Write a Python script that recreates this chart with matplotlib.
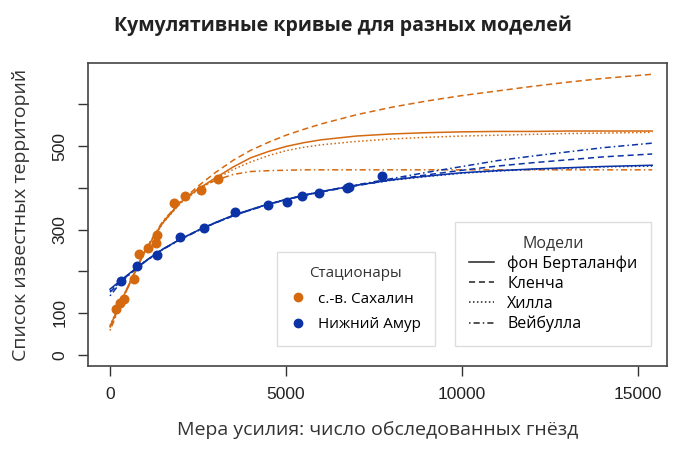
import matplotlib
matplotlib.use("Agg")
import matplotlib.pyplot as plt
from matplotlib.lines import Line2D

plt.rcParams['font.family'] = ['Open Sans', 'DejaVu Sans']

# observed points
sakh_x = [162, 284, 398, 682, 824, 1080, 1307, 1335, 1818, 2131, 2585, 3068]
sakh_y = [110, 125, 133, 181, 241, 255, 267, 287, 364, 381, 395, 422]

amur_x = [312, 767, 1335, 1989, 2670, 3551, 4489, 5028, 5455, 5938, 6733, 6790, 7727]
amur_y = [176, 212, 239, 282, 304, 342, 359, 366, 381, 388, 400, 402, 429]

# fitted curves
curve_x = [0, 300, 600, 1000, 1500, 2000, 2500, 3000, 3500, 4000, 4500, 5000, 5500,
           6000, 7000, 8000, 9000, 10000, 11000, 12000, 13000, 14000, 15400]

sakh_vb = [68, 125, 180, 250, 316, 365, 397, 424, 450, 472, 487, 499, 508,
           515, 524, 529, 532, 534, 535, 535, 536, 536, 536]
sakh_klench = [65, 122, 178, 250, 318, 366, 404, 437, 466, 490, 509, 526, 540,
               553, 575, 593, 608, 621, 632, 643, 653, 662, 672]
sakh_hill = [70, 126, 180, 250, 315, 363, 395, 421, 444, 462, 477, 489, 497,
             503, 511, 517, 521, 524, 526, 528, 530, 531, 533]
sakh_weib = [58, 120, 178, 252, 320, 367, 398, 418, 432, 439, 441, 442, 443,
             443, 443, 443, 443, 443, 443, 443, 443, 443, 443]

amur_vb = [157, 178, 198, 224, 253, 277, 298, 317, 334, 348, 361, 372, 382,
           391, 406, 419, 428, 436, 441, 445, 448, 451, 454]
amur_klench = [150, 175, 197, 224, 253, 277, 298, 316, 333, 347, 360, 371, 381,
               390, 405, 419, 431, 442, 452, 460, 467, 474, 481]
amur_hill = [152, 176, 197, 224, 253, 277, 298, 317, 334, 348, 361, 372, 382,
             391, 406, 418, 427, 435, 440, 444, 447, 450, 452]
amur_weib = [141, 173, 196, 223, 252, 276, 297, 316, 333, 347, 361, 372, 382,
             391, 407, 422, 437, 451, 465, 476, 486, 496, 507]

orange = '#d4690f'
blue = '#0b33a6'

styles = {
    'vb': dict(linestyle='-'),
    'klench': dict(linestyle=(0, (4, 2.5))),
    'hill': dict(linestyle=(0, (1, 1.6))),
    'weib': dict(linestyle=(0, (1, 2, 4, 2))),
}

fig = plt.figure(figsize=(6.73, 4.49), dpi=100)
ax = fig.add_axes([0.1308, 0.1849, 0.8603, 0.6748])

for col, curves in [(orange, [sakh_vb, sakh_klench, sakh_hill, sakh_weib]),
                    (blue, [amur_vb, amur_klench, amur_hill, amur_weib])]:
    for key, ys in zip(['vb', 'klench', 'hill', 'weib'], curves):
        ax.plot(curve_x, ys, color=col, lw=1.1, **styles[key])

ax.scatter(sakh_x, sakh_y, s=38, color=orange, zorder=3)
ax.scatter(amur_x, amur_y, s=38, color=blue, zorder=3)

ax.set_xlim(-625, 15820)
ax.set_ylim(-27, 699)

ax.set_xticks([0, 5000, 10000, 15000])
ax.set_yticks([0, 100, 200, 300, 400, 500, 600])
ax.set_yticklabels(['0', '100', '', '300', '', '500', ''], rotation=90, va='center')
ax.tick_params(length=7, width=1, color='#333333', labelsize=12.5, pad=8)
for lab in ax.get_xticklabels() + ax.get_yticklabels():
    lab.set_family(['Liberation Sans', 'DejaVu Sans'])
    lab.set_color('#222222')
for sp in ax.spines.values():
    sp.set_color('#444444')
    sp.set_linewidth(1.2)

ax.set_xlabel('Мера усилия: число обследованных гнёзд', fontsize=14, color='#333333', labelpad=14)
ax.set_ylabel('Список известных территорий', fontsize=14, color='#333333', labelpad=16)
fig.suptitle('Кумулятивные кривые для разных моделей', fontsize=14, fontweight='bold',
             color='#222222', x=0.51, y=0.965)

# legends
st_handles = [Line2D([], [], marker='o', ls='', color=orange, markersize=6),
              Line2D([], [], marker='o', ls='', color=blue, markersize=6)]
leg1 = ax.legend(st_handles, ['с.-в. Сахалин', 'Нижний Амур'], title='Стационары',
                 loc='lower left', bbox_to_anchor=(0.326, 0.066), fontsize=11,
                 title_fontsize=11, fancybox=False, framealpha=1, edgecolor='#dddddd',
                 handlelength=1.0, handletextpad=0.8, labelspacing=0.7,
                 borderpad=0.9, borderaxespad=0)
ax.add_artist(leg1)

md_handles = [Line2D([], [], color='#222222', lw=1.1, **styles[k])
              for k in ['vb', 'klench', 'hill', 'weib']]
leg2 = ax.legend(md_handles, ['фон Берталанфи', 'Кленча', 'Хилла', 'Вейбулла'],
                 title='Модели', loc='lower left', bbox_to_anchor=(0.634, 0.066),
                 fontsize=11.5, title_fontsize=11.5, fancybox=False, framealpha=1,
                 edgecolor='#dddddd', handlelength=1.6, handletextpad=0.8,
                 labelspacing=0.25, borderpad=0.85, borderaxespad=0)
leg2.get_title().set_color('#333333')
leg1.get_title().set_color('#333333')

fig.savefig('out.png', dpi=100)
